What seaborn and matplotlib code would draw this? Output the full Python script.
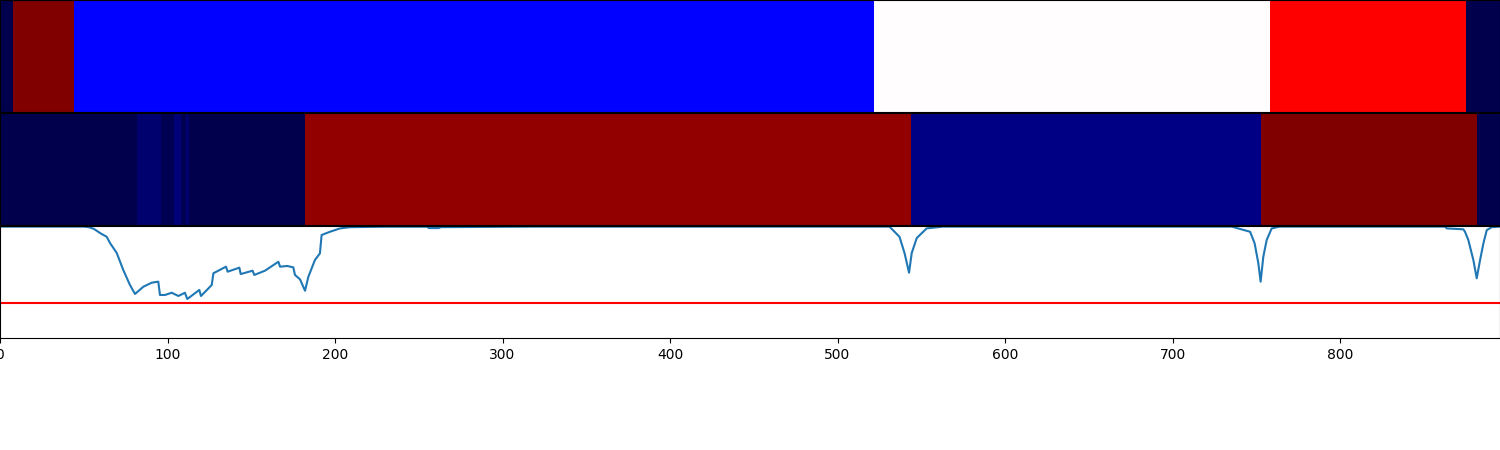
import numpy as np
import matplotlib
matplotlib.use("Agg")
import matplotlib.pyplot as plt
import seaborn as sns

# top row: discrete labels per segment (seismic, 0..4)
top_bounds = [0, 8, 44, 522, 758, 875, 896]
top_labels = [0, 4, 1, 2, 3, 0]

# middle row: score per segment (seismic, 0..1)
mid_bounds = [0, 82, 96, 104, 108, 111, 113, 182, 544, 753, 882, 896]
mid_values = [0.0, 0.05, 0.01, 0.06, 0.01, 0.05, 0.0, 0.96, 0.08, 1.0, 0.0]

# bottom row: curve keypoints and threshold
curve_x = [0, 50, 53, 56, 60, 63.7, 65.7, 69.7, 73.6, 77.6, 80.6, 85.6, 90.6, 94.5,
           95.5, 98.5, 102.5, 106.5, 110.4, 111.8, 119, 120, 126.4, 127.4, 134.9,
           135.9, 142.9, 143.7, 150.8, 151.8, 158.2, 166.2, 167.2, 171.5, 175.1,
           176.1, 179.1, 182.1, 184.1, 188, 191, 192, 197, 203, 209, 230, 255, 256,
           262, 263, 320, 531, 537, 540, 542.7, 544.3, 547.3, 553.2, 563, 735.3,
           746.3, 749, 751.2, 752.6, 754.2, 756.2, 759.2, 764, 862.7, 863.7, 873.6,
           874.6, 876.6, 879.6, 881.6, 883.6, 885.6, 887.6, 890.6, 895.5]
curve_y = [0.995, 0.995, 0.990, 0.975, 0.935, 0.904, 0.848, 0.759, 0.607, 0.473, 0.393,
           0.458, 0.494, 0.503, 0.384, 0.384, 0.404, 0.375, 0.404, 0.348, 0.429,
           0.375, 0.473, 0.578, 0.637, 0.592, 0.628, 0.571, 0.601, 0.563, 0.601,
           0.681, 0.637, 0.643, 0.631, 0.563, 0.524, 0.422, 0.547, 0.696, 0.756,
           0.920, 0.949, 0.979, 0.990, 0.994, 0.994, 0.982, 0.982, 0.990, 0.995,
           0.995, 0.904, 0.759, 0.583, 0.759, 0.893, 0.979, 0.995, 0.995, 0.949,
           0.846, 0.670, 0.503, 0.726, 0.875, 0.979, 0.995, 0.995, 0.979, 0.971,
           0.949, 0.875, 0.696, 0.533, 0.696, 0.846, 0.964, 0.990, 0.995]
threshold = 0.3125

XMAX = 895.5


def segments_to_row(bounds, values):
    return np.repeat(values, np.diff(bounds)).astype(float)[np.newaxis, :]


fig = plt.figure(figsize=(15, 4.5), dpi=100)
gs = fig.add_gridspec(3, 1, left=0, right=1, top=1, bottom=0.249, hspace=0.01)
ax_top = fig.add_subplot(gs[0])
ax_mid = fig.add_subplot(gs[1])
ax_line = fig.add_subplot(gs[2])

sns.heatmap(segments_to_row(top_bounds, top_labels), cmap="seismic", vmin=0, vmax=4,
            cbar=False, xticklabels=False, yticklabels=False, ax=ax_top)
sns.heatmap(segments_to_row(mid_bounds, mid_values), cmap="seismic", vmin=0, vmax=1,
            cbar=False, xticklabels=False, yticklabels=False, ax=ax_mid)

for ax in (ax_top, ax_mid):
    for s in ax.spines.values():
        s.set_visible(True)
        s.set_color("black")
    ax.set_xlim(0, XMAX)

sns.lineplot(x=curve_x, y=curve_y, color="#1f77b4", linewidth=1.5, ax=ax_line)
ax_line.axhline(threshold, color="red", linewidth=1.5)
ax_line.set_xlim(0, XMAX)
ax_line.set_ylim(0, 1)
ax_line.set_yticks([])
ax_line.set_xticks(range(0, 900, 100))

fig.savefig("out.png", dpi=100)
